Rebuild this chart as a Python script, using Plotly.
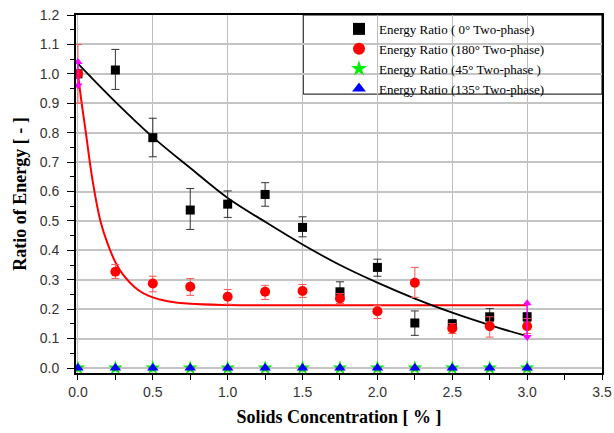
import plotly.graph_objects as go

# ---- data ----
conc = [0.0, 0.25, 0.5, 0.75, 1.0, 1.25, 1.5, 1.75, 2.0, 2.25, 2.5, 2.75, 3.0]

ratio_0 = [1.0, 1.013, 0.783, 0.537, 0.557, 0.59, 0.478, 0.259, 0.342, 0.153, 0.149, 0.174, 0.174]
ratio_0_plus = [0.0, 0.07, 0.066, 0.073, 0.045, 0.04, 0.036, 0.034, 0.028, 0.041, 0.016, 0.028, 0.013]
ratio_0_minus = [0.0, 0.066, 0.065, 0.066, 0.045, 0.04, 0.032, 0.029, 0.03, 0.042, 0.015, 0.017, 0.017]

ratio_180 = [1.0, 0.327, 0.287, 0.276, 0.242, 0.259, 0.262, 0.236, 0.193, 0.29, 0.134, 0.142, 0.142]
ratio_180_plus = [0.1, 0.025, 0.025, 0.028, 0.025, 0.022, 0.022, 0.017, 0.02, 0.052, 0.017, 0.032, 0.026]
ratio_180_minus = [0.1, 0.023, 0.028, 0.029, 0.025, 0.026, 0.022, 0.017, 0.025, 0.05, 0.017, 0.037, 0.025]

ratio_45 = [0.0] * 13
ratio_135 = [0.0] * 13

range_x = [0.0, 3.0]
range_hi = [1.04, 0.22]
range_lo = [0.96, 0.105]

fit0_x = [0.0, 0.25, 0.5, 0.75, 1.0, 1.25, 1.5, 1.75, 2.0, 2.25, 2.5, 2.75, 3.0]
fit0_y = [1.035, 0.905, 0.785, 0.68, 0.578, 0.497, 0.42, 0.35, 0.29, 0.236, 0.188, 0.146, 0.108]

fit180_x = [0.0, 0.025, 0.05, 0.1, 0.15, 0.2, 0.25, 0.3, 0.4, 0.5, 0.6, 0.75, 1.0, 1.5, 2.0, 2.5, 3.0]
fit180_y = [1.0, 0.9, 0.81, 0.63, 0.5, 0.42, 0.36, 0.318, 0.266, 0.24, 0.227, 0.218, 0.214, 0.213, 0.213, 0.213, 0.213]

SERIF = "Liberation Serif"
SANS = "Liberation Sans"

fig = go.Figure()

fig.add_trace(go.Scatter(x=fit180_x, y=fit180_y, mode="lines", line=dict(color="#ff0000", width=2, shape="spline"),
                         showlegend=False, hoverinfo="skip"))
fig.add_trace(go.Scatter(x=fit0_x, y=fit0_y, mode="lines", line=dict(color="#000000", width=1.8, shape="spline"),
                         showlegend=False, hoverinfo="skip"))

fig.add_trace(go.Scatter(
    x=conc, y=ratio_0, mode="markers", name="Energy Ratio ( 0° Two-phase)",
    marker=dict(symbol="square", size=9, color="#000000"),
    error_y=dict(type="data", symmetric=False, array=ratio_0_plus, arrayminus=ratio_0_minus,
                 color="#333333", thickness=1, width=4)))
fig.add_trace(go.Scatter(
    x=conc, y=ratio_180, mode="markers", name="Energy Ratio (180° Two-phase)",
    marker=dict(symbol="circle", size=10, color="#ff0000"),
    error_y=dict(type="data", symmetric=False, array=ratio_180_plus, arrayminus=ratio_180_minus,
                 color="#ff5555", thickness=1, width=4)))
fig.add_trace(go.Scatter(
    x=conc, y=ratio_45, mode="markers", name="Energy Ratio (45° Two-phase )",
    marker=dict(symbol="star", size=11, color="#00ee00")))
fig.add_trace(go.Scatter(
    x=conc, y=ratio_135, mode="markers", name="Energy Ratio (135° Two-phase)",
    marker=dict(symbol="triangle-up", size=10, color="#0000ff")))

# magenta range markers
seg_x, seg_y = [], []
for xv, hi, lo in zip(range_x, range_hi, range_lo):
    seg_x += [xv, xv, None]
    seg_y += [hi, lo, None]
fig.add_trace(go.Scatter(x=seg_x, y=seg_y, mode="lines", line=dict(color="#ff00ff", width=1.5),
                         showlegend=False, hoverinfo="skip"))
fig.add_trace(go.Scatter(x=range_x, y=range_hi, mode="markers", showlegend=False,
                         marker=dict(symbol="triangle-up", size=8, color="#ff00ff")))
fig.add_trace(go.Scatter(x=range_x, y=range_lo, mode="markers", showlegend=False,
                         marker=dict(symbol="triangle-down", size=8, color="#ff00ff")))

tick_font = dict(family=SANS, size=14, color="#333333")
title_font = dict(family=SERIF, size=18, color="#000000", weight="bold")

fig.update_layout(
    width=614, height=433,
    margin=dict(l=76, r=12, t=15, b=60, autoexpand=False),
    paper_bgcolor="white", plot_bgcolor="white",
    font=dict(family=SERIF),
    xaxis=dict(
        range=[-0.013, 3.5], dtick=0.5, tick0=0, tickformat=".1f",
        showgrid=True, gridcolor="#bdbdbd", gridwidth=1, zeroline=False,
        showline=True, linecolor="#000000", linewidth=2, mirror=True,
        ticks="outside", ticklen=5, tickcolor="#000000", tickfont=tick_font,
        ticklabelstandoff=0, automargin=False,
        minor=dict(dtick=0.25, ticks="outside", ticklen=5, tickcolor="#000000", showgrid=False),
        title=dict(text="Solids Concentration [ % ]", font=title_font, standoff=12),
    ),
    yaxis=dict(
        range=[-0.017, 1.2], dtick=0.1, tick0=0, tickformat=".1f",
        showgrid=True, gridcolor="#c4c4c4", gridwidth=1.5, zeroline=False,
        showline=True, linecolor="#000000", linewidth=2, mirror=True,
        ticks="outside", ticklen=7, tickcolor="#000000", tickfont=tick_font,
        ticklabelstandoff=5, automargin=False,
        minor=dict(dtick=0.05, ticks="outside", ticklen=4, tickcolor="#000000", showgrid=False),
        title=dict(text="Ratio of Energy [ - ]", font=title_font, standoff=8),
    ),
    legend=dict(
        x=0.5, y=1.003, xanchor="left", yanchor="top",
        bgcolor="rgba(0,0,0,0)", borderwidth=0,
        font=dict(family=SERIF, size=13, color="#000000"),
        tracegroupgap=0, itemsizing="constant",
    ),
    shapes=[dict(type="rect", xref="paper", yref="paper", x0=0.432, x1=1.0, y0=0.779, y1=1.0,
                 line=dict(color="#000000", width=1), fillcolor="white", layer="below")],
)

fig.write_html("out.html")
